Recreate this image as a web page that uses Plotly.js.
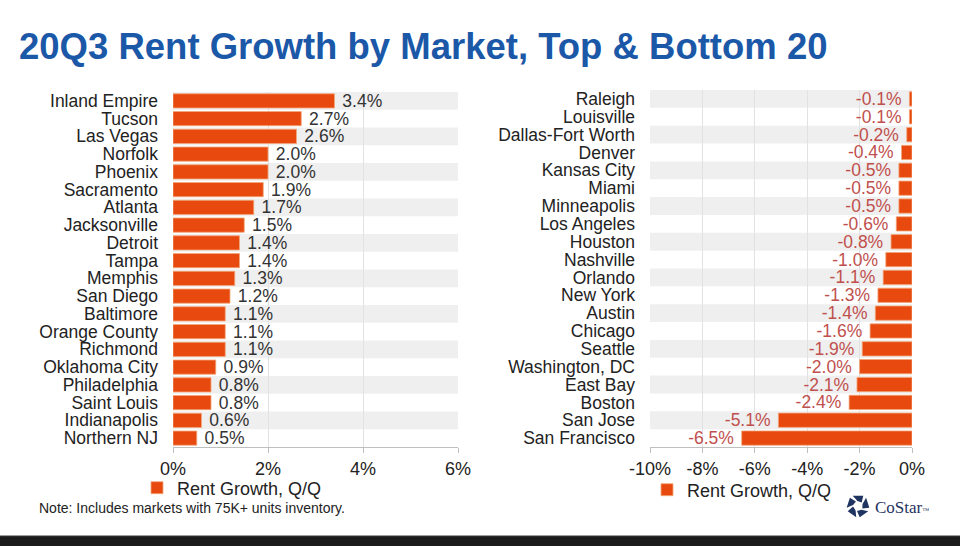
<!DOCTYPE html>
<html>
<head>
<meta charset="utf-8">
<script src="https://cdn.plot.ly/plotly-3.0.1.min.js"></script>
<style>html,body{margin:0;padding:0;background:#fff;}#chart{width:960px;height:546px;}</style>
</head>
<body>
<div id="chart"></div>
<script>
// ---- data ----
const topMarkets = ['Inland Empire','Tucson','Las Vegas','Norfolk','Phoenix','Sacramento','Atlanta','Jacksonville','Detroit','Tampa','Memphis','San Diego','Baltimore','Orange County','Richmond','Oklahoma City','Philadelphia','Saint Louis','Indianapolis','Northern NJ'];
const topGrowth = [3.4,2.7,2.6,2.0,2.0,1.9,1.7,1.5,1.4,1.4,1.3,1.2,1.1,1.1,1.1,0.9,0.8,0.8,0.6,0.5];
const bottomMarkets = ['Raleigh','Louisville','Dallas-Fort Worth','Denver','Kansas City','Miami','Minneapolis','Los Angeles','Houston','Nashville','Orlando','New York','Austin','Chicago','Seattle','Washington, DC','East Bay','Boston','San Jose','San Francisco'];
const bottomGrowth = [-0.1,-0.1,-0.2,-0.4,-0.5,-0.5,-0.5,-0.6,-0.8,-1.0,-1.1,-1.3,-1.4,-1.6,-1.9,-2.0,-2.1,-2.4,-5.1,-6.5];
const topTickVals = [0,2,4,6];
const topTickText = ['0%','2%','4%','6%'];
const bottomTickVals = [-10,-8,-6,-4,-2,0];
const bottomTickText = ['-10%','-8%','-6%','-4%','-2%','0%'];
const seriesName = 'Rent Growth, Q/Q';
const titleText = '20Q3 Rent Growth by Market, Top & Bottom 20';
const noteText = 'Note: Includes markets with 75K+ units inventory.';

// ---- style ----
const W = 960, H = 546;
const FONT = 'Liberation Sans, Arial, sans-serif';
const BAR = '#e8490f';
const NB = '\u00a0';
const px = x => x / W;
const py = y => 1 - y / H;
const fmt = v => (v < 0 ? '-' : '') + Math.abs(v).toFixed(1) + '%';

const traces = [
  {type:'bar', orientation:'h', y: topMarkets, x: topGrowth, xaxis:'x', yaxis:'y',
   name: seriesName, legend:'legend',
   marker:{color:BAR, line:{color:'#f3a77a', width:0.8}},
   text: topGrowth.map(v => NB + fmt(v)), textposition:'outside', cliponaxis:false, constraintext:'none', textangle:0,
   textfont:{family:FONT, size:17.5, color:'#333333'}, hoverinfo:'y+x'},
  {type:'bar', orientation:'h', y: bottomMarkets, x: bottomGrowth, xaxis:'x2', yaxis:'y2',
   name: seriesName, legend:'legend2',
   marker:{color:BAR, line:{color:'#f3a77a', width:0.8}},
   text: bottomGrowth.map(v => fmt(v) + NB), textposition:'outside', cliponaxis:false, constraintext:'none', textangle:0,
   textfont:{family:FONT, size:17.5, color:'#c0504d'}, hoverinfo:'y+x'}
];

const shapes = [];
for (let i = 0; i < 20; i += 2) {
  shapes.push({type:'rect', xref:'x domain', yref:'y', x0:0, x1:1, y0:i-0.5, y1:i+0.5,
    fillcolor:'#efefef', line:{width:0}, layer:'below'});
  shapes.push({type:'rect', xref:'x2 domain', yref:'y2', x0:0, x1:1, y0:i-0.5, y1:i+0.5,
    fillcolor:'#efefef', line:{width:0}, layer:'below'});
}
// bottom dark strip
shapes.push({type:'rect', xref:'paper', yref:'paper', x0:0, x1:1, y0:0, y1:py(536),
  fillcolor:'#1b1b1b', line:{width:0}});
shapes.push({type:'line', xref:'paper', yref:'paper', x0:0, x1:1, y0:py(536), y1:py(536),
  line:{color:'#3a3a3a', width:1}});
// CoStar logo blades
(function(){
  const cx = 858, cy = 506, r0 = 5, r1 = 11.5;
  for (let k = 0; k < 5; k++) {
    const a = -Math.PI/2 + k * 2*Math.PI/5;
    const span = 0.95;
    const pts = [
      [cx + r0*Math.cos(a - span/2 + 0.35), cy + r0*Math.sin(a - span/2 + 0.35)],
      [cx + r1*Math.cos(a - span/2), cy + r1*Math.sin(a - span/2)],
      [cx + r1*Math.cos(a + span/2), cy + r1*Math.sin(a + span/2)],
      [cx + r0*Math.cos(a + span/2 + 0.35), cy + r0*Math.sin(a + span/2 + 0.35)]
    ];
    const d = 'M' + pts.map(p => px(p[0]).toFixed(5) + ',' + py(p[1]).toFixed(5)).join(' L') + ' Z';
    shapes.push({type:'path', xref:'paper', yref:'paper', path:d, fillcolor:'#1f3461', line:{width:0}});
  }
})();

const xCommon = {
  showgrid:true, gridcolor:'#e2e2e2', gridwidth:1, zeroline:false,
  showline:true, linecolor:'#bfbfbf', linewidth:1,
  ticks:'outside', tickcolor:'#bfbfbf', ticklen:5,
  tickfont:{family:FONT, size:18, color:'#222'}, fixedrange:true
};
const yCommon = {
  type:'category', autorange:'reversed', showgrid:false, zeroline:false, showline:false,
  ticks:'', ticklabelstandoff:14, tickmode:'array',
  tickfont:{family:FONT, size:17.5, color:'#222'}, fixedrange:true
};

const layout = {
  width:W, height:H, autosize:false,
  margin:{l:0, r:0, t:0, b:0},
  paper_bgcolor:'#ffffff', plot_bgcolor:'#ffffff',
  bargap:0.2, showlegend:true,
  title:{text:'<b>' + titleText + '</b>', x:px(19), xanchor:'left', xref:'paper',
         y:py(46), yanchor:'middle', yref:'paper',
         font:{family:FONT, size:36.5, color:'#1b58a8'}},
  xaxis: Object.assign({}, xCommon, {domain:[px(173), px(458)], anchor:'y', range:[0,6],
         tickvals: topTickVals, ticktext: topTickText}),
  yaxis: Object.assign({}, yCommon, {domain:[py(447), py(92)], anchor:'x',
         tickvals: topMarkets, ticktext: topMarkets}),
  xaxis2: Object.assign({}, xCommon, {domain:[px(650), px(912)], anchor:'y2', range:[-10,0],
         tickvals: bottomTickVals, ticktext: bottomTickText}),
  yaxis2: Object.assign({}, yCommon, {domain:[py(447), py(90)], anchor:'x2',
         tickvals: bottomMarkets, ticktext: bottomMarkets}),
  legend:{x:px(137), xanchor:'left', y:py(488), yanchor:'middle', bgcolor:'rgba(0,0,0,0)',
          font:{family:FONT, size:18, color:'#222'}, itemclick:false, itemdoubleclick:false},
  legend2:{x:px(647), xanchor:'left', y:py(490), yanchor:'middle', bgcolor:'rgba(0,0,0,0)',
          font:{family:FONT, size:18, color:'#222'}, itemclick:false, itemdoubleclick:false},
  shapes: shapes,
  annotations:[
    {text: noteText, xref:'paper', yref:'paper', x:px(37), y:py(508), xanchor:'left', yanchor:'middle',
     showarrow:false, font:{family:FONT, size:14, color:'#222'}},
    {text:'CoStar<span style="font-size:7px">™</span>', xref:'paper', yref:'paper', x:px(873), y:py(507), xanchor:'left', yanchor:'middle',
     showarrow:false, font:{family:'Liberation Serif, DejaVu Serif, serif', size:17, color:'#1f3461'}}
  ]
};

Plotly.newPlot('chart', traces, layout, {displayModeBar:false});
</script>
</body>
</html>
